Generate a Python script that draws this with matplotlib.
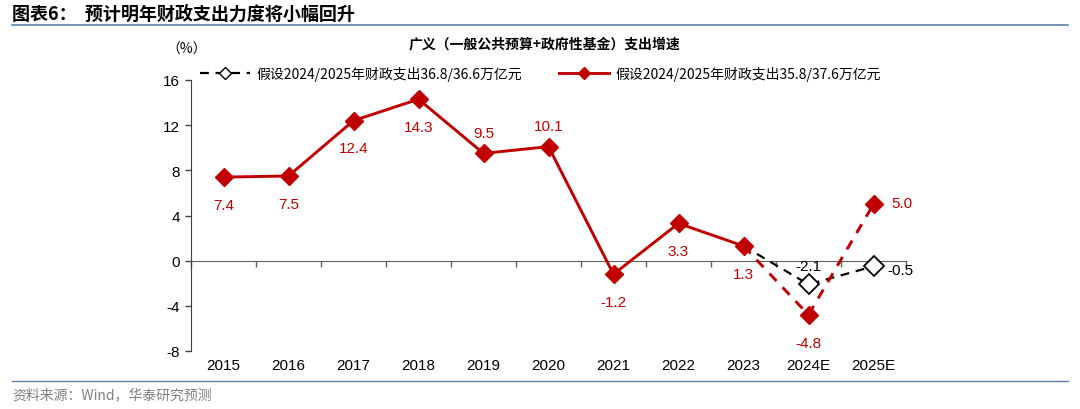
import matplotlib
matplotlib.use("Agg")
import matplotlib.pyplot as plt
from matplotlib.lines import Line2D
import numpy as np

plt.rcParams['font.family'] = ['Liberation Sans', 'Noto Sans CJK SC', 'DejaVu Sans']
CJK = ['Noto Sans CJK SC', 'DejaVu Sans']

years = ['2015', '2016', '2017', '2018', '2019', '2020', '2021', '2022', '2023', '2024E', '2025E']
actual = [7.4, 7.5, 12.4, 14.3, 9.5, 10.1, -1.2, 3.3, 1.3]
scen_red = [1.3, -4.8, 5.0]      # 2023, 2024E, 2025E
scen_black = [1.3, -2.1, -0.5]   # 2023, 2024E, 2025E
label_pos_actual = ['below', 'below', 'below', 'below', 'above', 'above', 'below', 'below', 'below']

legend_black = '假设2024/2025年财政支出36.8/36.6万亿元'
legend_red = '假设2024/2025年财政支出35.8/37.6万亿元'
title = '广义（一般公共预算+政府性基金）支出增速'
header = '图表6：  预计明年财政支出力度将小幅回升'
source = '资料来源：Wind，华泰研究预测'
yticks = [-8, -4, 0, 4, 8, 12, 16]

RED = '#C00000'
BLUE = '#5B7FA6'

fig = plt.figure(figsize=(10.8, 4.1), dpi=100)
ax = fig.add_axes([191/1080, 1-352/410, 715/1080, 271/410])

x = np.arange(len(years))
xa = x[:len(actual)]
xs = x[len(actual)-1:]

ax.plot(xs, scen_black, color='black', lw=1.6, ls=(0, (4, 3)), marker='D',
        markersize=10, markerfacecolor='white', markeredgecolor='black',
        markeredgewidth=1.3, markevery=[1, 2], zorder=3)
ax.plot(xs, scen_red, color=RED, lw=2.1, ls=(0, (3.5, 3)), marker='D',
        markersize=9, markerfacecolor=RED, markeredgecolor=RED,
        markevery=[1, 2], zorder=4)
ax.plot(xa, actual, color=RED, lw=2.1, marker='D', markersize=9,
        markerfacecolor=RED, markeredgecolor=RED, zorder=5)

for xi, v, p in zip(xa, actual, label_pos_actual):
    dy = -20 if p == 'below' else 15
    ax.annotate(f'{v:.1f}', (xi, v), xytext=(0, dy), textcoords='offset points',
                ha='center', va='center', color=RED, fontsize=11)
# scenario labels
ax.annotate(f'{scen_red[1]:.1f}', (xs[1], scen_red[1]), xytext=(0, -20),
            textcoords='offset points', ha='center', va='center', color=RED, fontsize=11)
ax.annotate(f'{scen_red[2]:.1f}', (xs[2], scen_red[2]), xytext=(13, 1),
            textcoords='offset points', ha='left', va='center', color=RED, fontsize=11)
ax.annotate(f'{scen_black[1]:.1f}', (xs[1], scen_black[1]), xytext=(0, 13),
            textcoords='offset points', ha='center', va='center', color='black', fontsize=11)
ax.annotate(f'{scen_black[2]:.1f}', (xs[2], scen_black[2]), xytext=(10, -3),
            textcoords='offset points', ha='left', va='center', color='black', fontsize=11)

ax.set_xlim(-0.5, len(years) - 0.5)
ax.set_ylim(-8, 16)
ax.set_yticks(yticks)
ax.set_yticklabels([str(t) for t in yticks], fontsize=11)
ax.tick_params(axis='y', direction='out', length=4, width=1, color='#404040', pad=4)

for s in ['top', 'right']:
    ax.spines[s].set_visible(False)
ax.spines['left'].set_color('#404040')
ax.spines['bottom'].set_position(('data', 0))
ax.spines['bottom'].set_color('#606060')
ax.set_xticks(np.arange(len(years) + 1) - 0.5)
ax.set_xticklabels([])
ax.tick_params(axis='x', direction='out', length=4, width=1, color='#606060')
for xi, lab in zip(x, years):
    ax.text(xi, -0.05, lab, transform=ax.get_xaxis_transform(), ha='center',
            va='center', fontsize=11)

handles = [
    Line2D([], [], color='black', lw=1.6, ls=(0, (4, 3)), marker='D', markersize=6,
           markerfacecolor='white', markeredgecolor='black'),
    Line2D([], [], color=RED, lw=2.1, marker='D', markersize=6,
           markerfacecolor=RED, markeredgecolor=RED),
]
leg = ax.legend(handles, [legend_black, legend_red], ncol=2, frameon=False,
                loc='center left', bbox_to_anchor=(-0.005, 1.025), handlelength=3.6,
                handletextpad=0.5, columnspacing=2.6, prop={'family': CJK, 'size': 10})

fig.text(545/1080, 1-44/410, title, ha='center', va='center', fontsize=10,
         fontweight='bold', family=CJK)
fig.text(187/1080, 1-50/410, '（%）', ha='center', va='center', fontsize=10, family=CJK)
fig.text(12/1080, 1-14/410, header, ha='left', va='center', fontsize=13,
         fontweight='bold', family=CJK)
fig.add_artist(Line2D([12/1080, 1068/1080], [1-26/410, 1-26/410], color=BLUE, lw=1.2))
fig.add_artist(Line2D([12/1080, 1068/1080], [1-382/410, 1-382/410], color=BLUE, lw=1.0))
fig.text(12/1080, 1-395/410, source, ha='left', va='center', fontsize=10,
         color='#808080', family=CJK)

fig.savefig('out.png', dpi=100)
